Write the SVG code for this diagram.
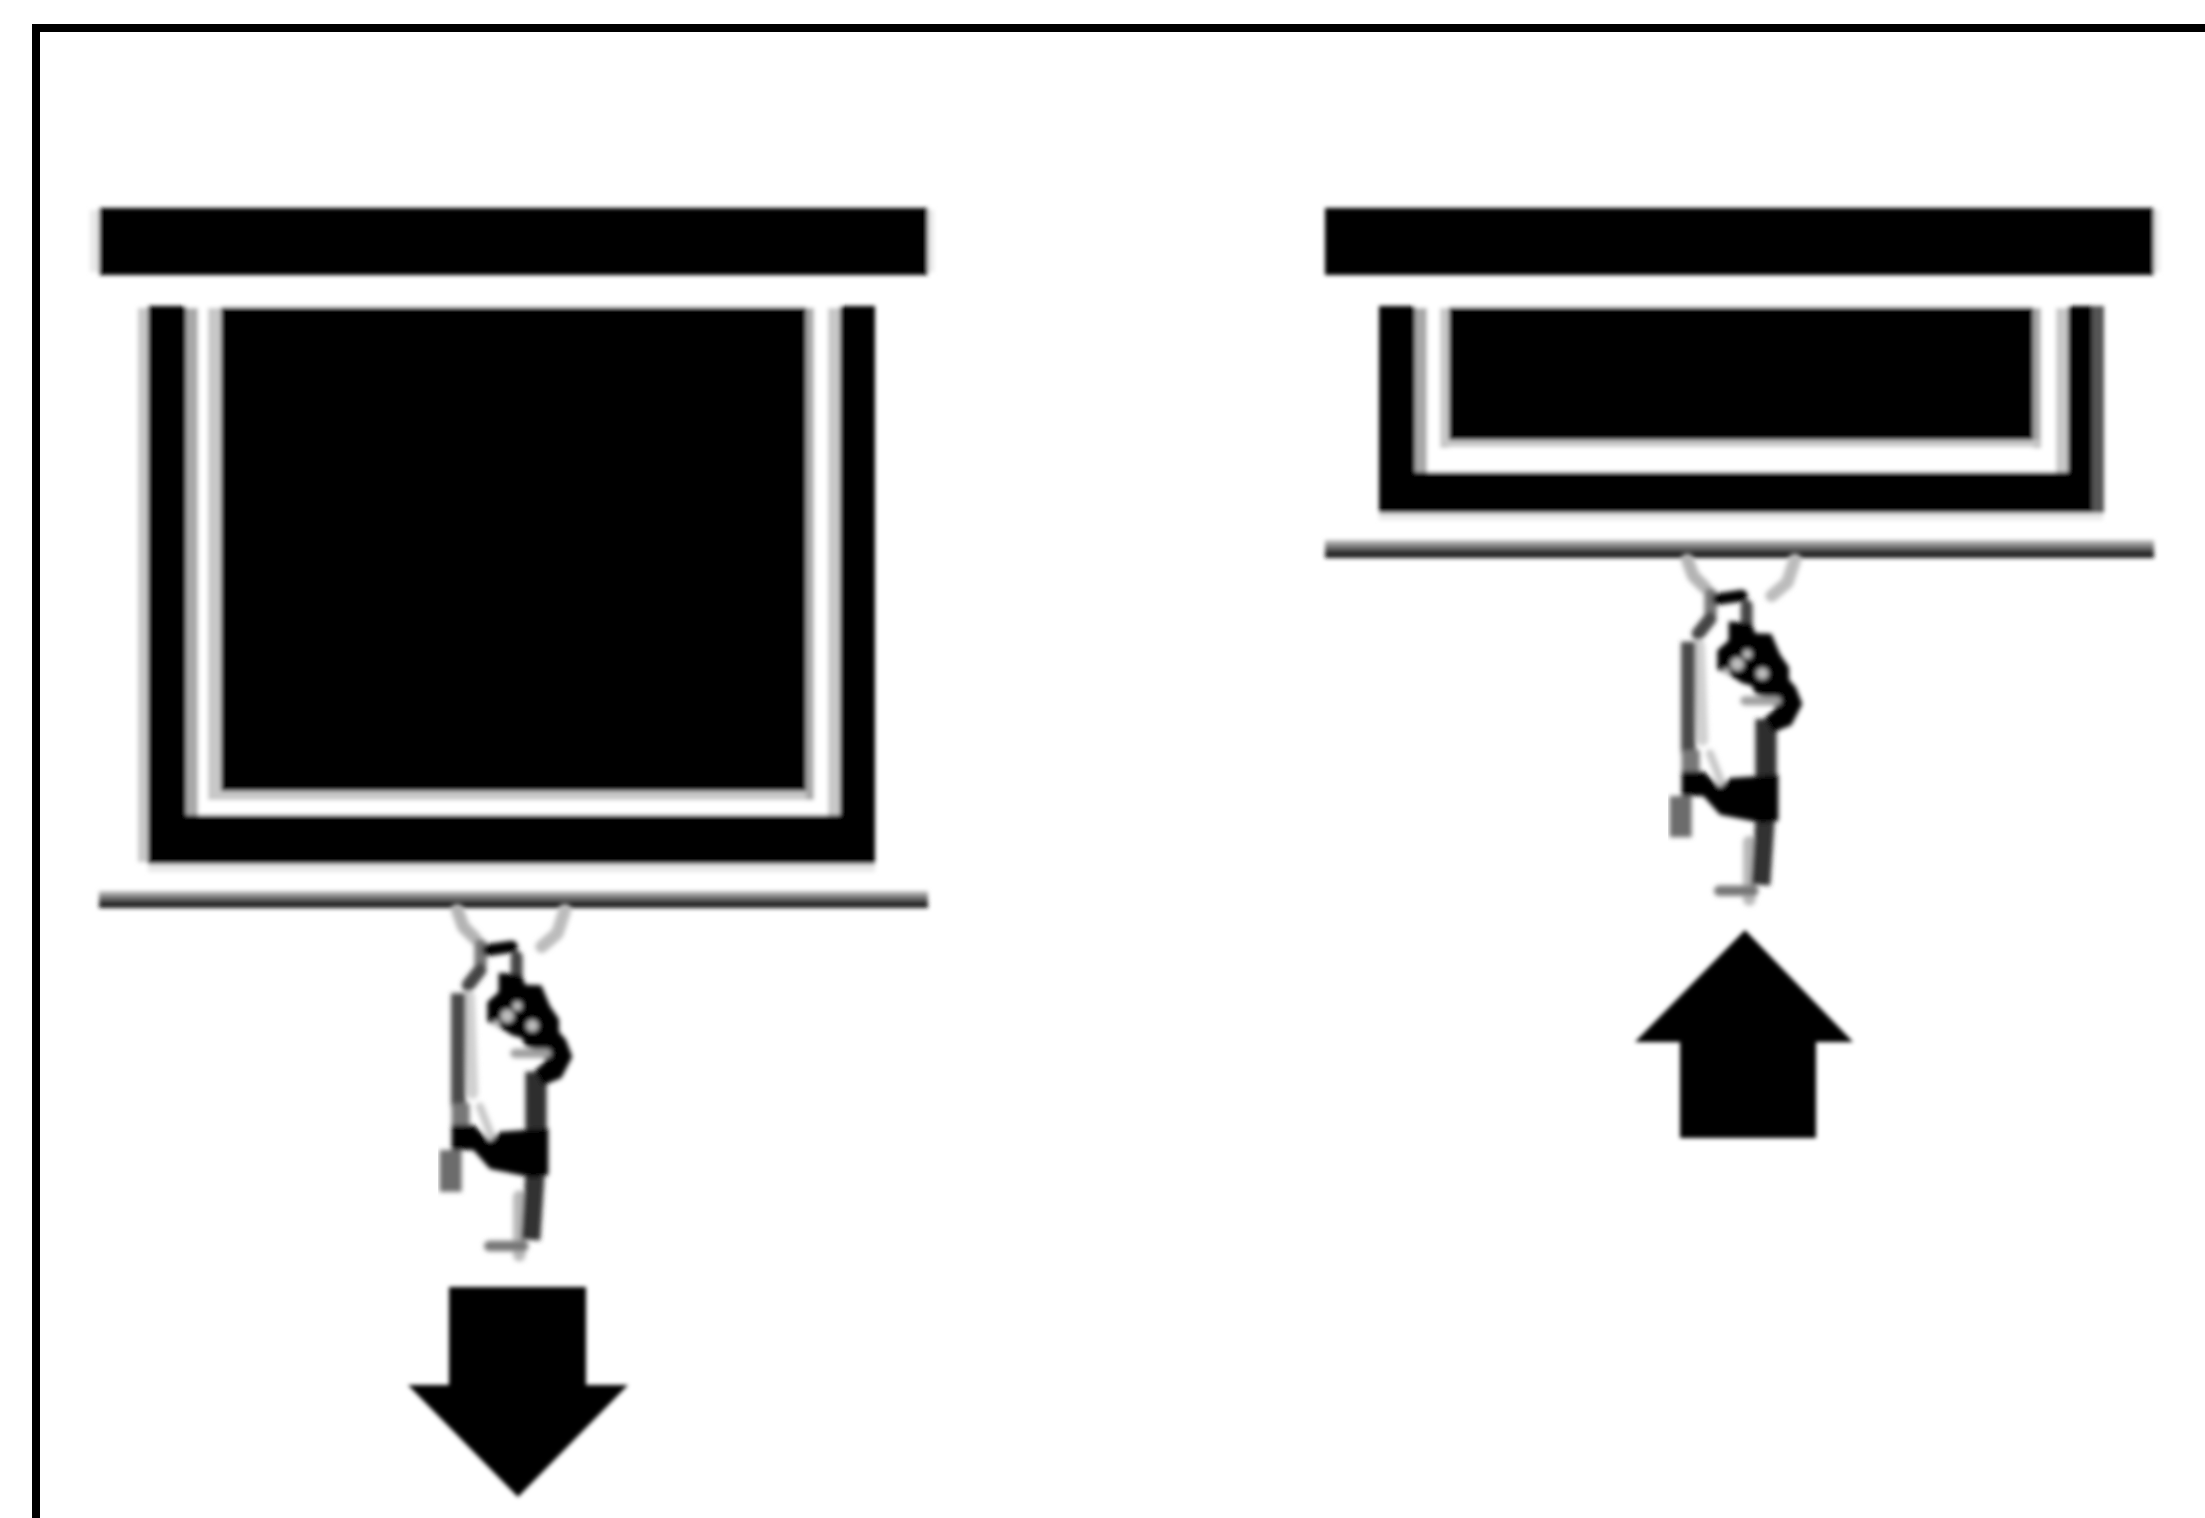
<svg xmlns="http://www.w3.org/2000/svg" width="2205" height="1518" viewBox="0 0 2205 1518">
<defs>
<filter id="soft" x="-5%" y="-5%" width="110%" height="110%"><feGaussianBlur stdDeviation="2"/></filter>
<filter id="soft2" x="-10%" y="-10%" width="120%" height="120%"><feGaussianBlur stdDeviation="2.4"/></filter>
<linearGradient id="rail" x1="0" y1="0" x2="0" y2="1">
<stop offset="0" stop-color="#c8c8c8"/><stop offset=".45" stop-color="#666"/><stop offset=".85" stop-color="#111"/><stop offset="1" stop-color="#222"/>
</linearGradient>
<g id="hand" stroke-linejoin="round" stroke-linecap="round">
<g fill="none">
<path d="M172 90L190 140L225 175" stroke="#b4b4b4" stroke-width="38"/>
<path d="M495 90L472 160L425 200" stroke="#bcbcbc" stroke-width="38"/>
<path d="M242 195V250" stroke="#777" stroke-width="38"/>
<path d="M240 270L205 315" stroke="#444" stroke-width="40"/>
<path d="M265 210L335 200" stroke="#000" stroke-width="36"/>
<path d="M350 230V290" stroke="#444" stroke-width="36"/>
<path d="M208 350L218 640" stroke="#d0d0d0" stroke-width="34"/>
<path d="M175 340V680" stroke="#484848" stroke-width="44" stroke-linecap="butt"/>
<path d="M182 670V745" stroke="#777" stroke-width="54" stroke-linecap="butt"/>
<path d="M240 680L275 770" stroke="#c8c8c8" stroke-width="24"/>
<path d="M152 810V935" stroke="#6c6c6c" stroke-width="66" stroke-linecap="butt"/>
<path d="M358 950V1125" stroke="#b8b8b8" stroke-width="38"/>
<path d="M408 575V755" stroke="#2e2e2e" stroke-width="64" stroke-linecap="butt"/>
<path d="M405 885L392 1080" stroke="#333" stroke-width="58" stroke-linecap="butt"/>
<path d="M268 1098H370" stroke="#777" stroke-width="32"/>
</g>
<path fill="#000" stroke="none" d="M155 735H222L270 785L300 755L445 745V885L400 893L270 867L220 810H155Z"/>
<path fill="#050505" stroke="none" d="M296 278L364 284L376 314L424 316L450 378L477 418L477 456L497 478L517 530L484 594L430 616L404 572L436 544L426 514L376 499L366 474L336 466L306 446L262 424L262 366L296 336Z"/>
<g fill="#bdbdbd" stroke="none">
<circle cx="322" cy="408" r="20"/>
<circle cx="352" cy="378" r="14"/>
<circle cx="397" cy="437" r="18"/>
<circle cx="290" cy="430" r="10"/>
</g>
<path fill="none" stroke="#a0a0a0" stroke-width="28" d="M345 520H440"/>
</g>
</defs>
<style>.k{fill:#000}.w{fill:#fff}.g1{fill:#a8a8a8}.g2{fill:#c8c8c8}.g3{fill:#e8e8e8}.r{fill:url(#rail)}</style>
<rect width="2205" height="1518" fill="#fff"/>
<rect x="36" y="28" width="2300" height="1600" fill="none" stroke="#000" stroke-width="8"/>
<g id="screen-down">
<g filter="url(#soft)">
<rect class="g3" x="90" y="210" width="9" height="62"/>
<rect class="k" x="99" y="208" width="829" height="67"/>
<rect class="g3" x="928" y="210" width="6" height="62"/>
<rect class="g2" x="138" y="308" width="10" height="554"/>
<rect class="k" x="148" y="306" width="727" height="558"/>
<rect class="w" x="186" y="300" width="654" height="515"/>
<rect class="g1" x="186" y="308" width="12" height="507"/>
<rect class="g2" x="208" y="308" width="13" height="492"/>
<rect class="g2" x="208" y="791" width="598" height="9"/>
<rect class="g1" x="806" y="308" width="8" height="492"/>
<rect class="g2" x="828" y="308" width="12" height="507"/>
<rect class="k" x="221" y="307" width="585" height="484"/>
<rect class="g3" x="148" y="864" width="727" height="8"/>
<rect class="r" x="99" y="891" width="829" height="17"/>
</g>
<g filter="url(#soft2)"><use href="#hand" transform="translate(400 880) scale(.3333)"/></g>
<path class="k" filter="url(#soft)" d="M449 1287H586V1385H628L518 1497L408 1385H449Z"/>
</g>
<g id="screen-up">
<g filter="url(#soft)">
<rect class="k" x="1325" y="208" width="829" height="67"/>
<rect class="g3" x="2154" y="210" width="6" height="62"/>
<rect class="k" x="1379" y="306" width="713" height="207"/>
<rect fill="#555" x="2092" y="306" width="12" height="207"/>
<rect class="g3" x="1379" y="513" width="724" height="7"/>
<rect class="w" x="1415" y="300" width="653" height="172"/>
<rect class="g1" x="1415" y="308" width="12" height="164"/>
<rect class="g2" x="1440" y="308" width="9" height="140"/>
<rect class="g1" x="2033" y="308" width="8" height="140"/>
<rect class="g2" x="2056" y="308" width="12" height="164"/>
<rect class="g2" x="1440" y="440" width="600" height="7"/>
<rect class="k" x="1449" y="307" width="584" height="133"/>
<rect class="r" x="1325" y="540" width="829" height="18"/>
</g>
<g filter="url(#soft2)"><use href="#hand" transform="translate(1630 530) scale(.3333 .3285)"/></g>
<path class="k" filter="url(#soft)" d="M1745 930L1853 1042H1816V1138H1680V1042H1635Z"/>
</g>
</svg>
